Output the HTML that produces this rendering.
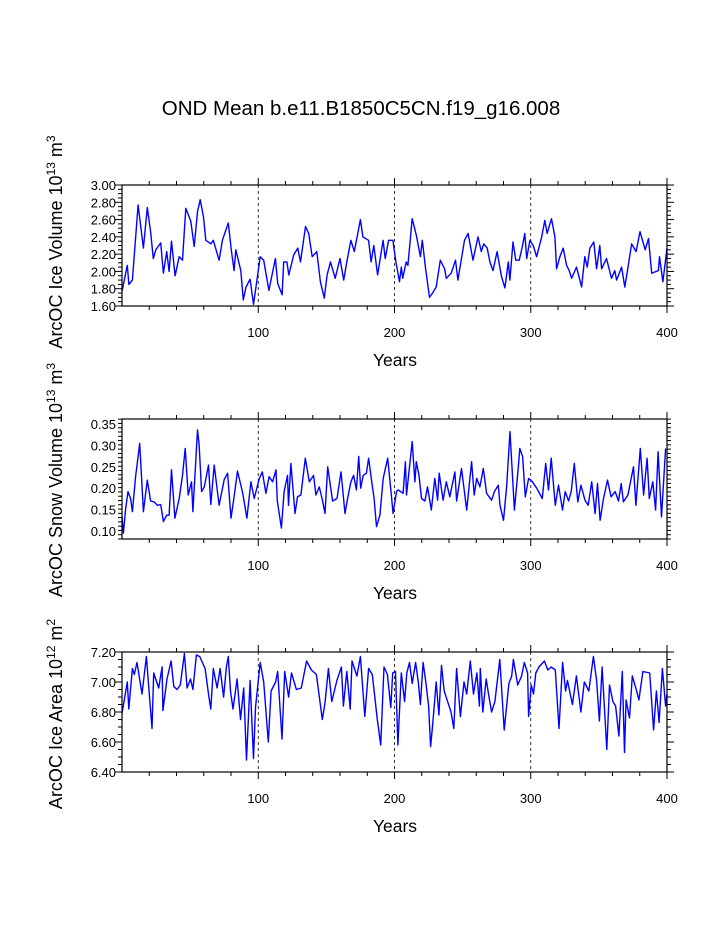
<!DOCTYPE html>
<html><head><meta charset="utf-8"><style>
html,body{margin:0;padding:0;background:#fff;}
svg{display:block;font-family:"Liberation Sans",Arial,sans-serif;}
</style></head><body>
<svg id="chart" width="723" height="935" viewBox="0 0 723 935">
<text x="361" y="115" text-anchor="middle" font-size="20.5">OND Mean b.e11.B1850C5CN.f19_g16.008</text>
</svg>
<script>
// Panel 1: ArcOC Ice Volume
const iceVolYears=[0,3.9,5.1,7.6,11.8,15.7,18.6,21,23,24.8,28.4,30.4,32.8,34.6,36.3,39,42,44.4,46.8,50.5,53,55.4,57.4,59.8,61.5,65.2,67,71.3,73.7,78,80.4,82.3,83.5,87.2,89,91,94,96.5,98,101.4,104,107.8,112.6,114.3,117.5,118.7,121,122.4,126,129,131,134.7,137,139.6,143,145.6,148.5,150.5,153,156.5,160,162.7,165,168,170.5,175,176.8,181,182.8,184.8,187.6,191.6,193.2,195.7,198.8,201,203.7,205,206,208.6,209.8,213,216,219,220.4,222.8,225.7,228,230.6,233.6,236.8,238,241.6,244.8,246.5,251.4,254,257.6,261.3,263.7,265.5,268,270,272.3,275.3,278.5,281,283.5,284.7,287,289,291.5,294,295.6,297,299.4,301.8,304.3,308,310.3,312,315.2,317.7,319,321.4,323.8,326.3,328.2,330,333.6,337.3,339.7,341.4,343.4,346.3,348.3,350.7,352,355.6,359.3,361.7,363,366.7,369,371.6,374,377.3,380.2,384,386.4,388.8,393.7,394.5,397,400];
const iceVolValues=[1.77,2.07,1.85,1.9,2.77,2.27,2.74,2.46,2.15,2.25,2.33,1.98,2.23,2.0,2.35,1.95,2.17,2.13,2.73,2.58,2.29,2.69,2.83,2.63,2.36,2.32,2.36,2.13,2.36,2.56,2.23,2.01,2.25,2.01,1.67,1.82,1.91,1.62,1.78,2.17,2.13,1.78,2.15,1.86,1.73,2.11,2.11,1.96,2.19,2.27,2.11,2.52,2.44,2.17,2.23,1.88,1.69,1.96,2.11,1.92,2.15,1.9,2.11,2.36,2.23,2.6,2.4,2.36,2.11,2.3,1.96,2.36,2.15,2.36,2.36,2.11,1.88,2.05,1.92,2.11,2.07,2.61,2.42,2.17,2.36,2.03,1.7,1.75,1.82,2.13,2.03,1.92,1.98,2.13,1.9,2.36,2.44,2.13,2.4,2.23,2.32,2.27,2.11,2.01,2.23,1.94,1.81,2.11,1.9,2.34,2.13,2.13,2.3,2.44,2.15,2.36,2.3,2.17,2.4,2.59,2.44,2.61,2.4,2.03,2.17,2.27,2.07,2.01,1.92,2.05,1.82,2.17,2.05,2.27,2.34,2.03,2.3,2.03,2.15,1.92,2.01,1.9,2.05,1.82,2.07,2.32,2.23,2.46,2.25,2.38,1.98,2.01,2.17,1.88,2.27];
// Panel 2: ArcOC Snow Volume
const snowYears=[0,1,2.7,4.4,6.3,7.6,10,13,15.7,18.6,21,23.5,26,28.4,30.4,32.8,34.6,36.3,38.8,42,44.4,46.4,48.6,51,52,55.4,56.6,58.4,60.4,63.5,65.2,67.7,71.3,75,77.5,80,82.3,84.8,88.5,91.7,94.6,97,100.8,103,105.6,108,110.5,113,114,117,119,121.5,122.2,124,127,128.8,131.3,134.5,137.5,140.6,142.3,144.8,147.2,149,151,154.6,157.8,160.7,163.7,165.6,168,170,172,173.7,175.2,177,179.4,181,183.6,185,186.8,189.3,191.7,195,197.4,199,201.5,202.7,206.3,208,208.8,213,215,216,218,219.8,222.3,224.2,227,229.6,231.6,232.8,235.7,238,240.6,244.3,245.6,249.2,253,256.6,258.5,260.3,262.7,265.2,267.6,271.3,273.3,276.2,277.4,280,282.3,284.8,288,291,292,294,296,298.4,301.2,304.4,308.5,311,313,315,318,320.4,323.3,325.3,327.8,329.7,332,334.5,336.8,339.8,342.2,344.7,347.2,349,350.9,353.4,356.3,359,362,364.4,366.4,368,371.3,373,375.4,377.2,380.4,382.8,385.4,387,389.6,391.6,393.5,396,399];
const snowValues=[0.133,0.095,0.153,0.192,0.176,0.145,0.227,0.305,0.145,0.219,0.17,0.168,0.16,0.162,0.122,0.137,0.137,0.243,0.13,0.176,0.23,0.293,0.184,0.215,0.145,0.336,0.302,0.192,0.203,0.254,0.162,0.254,0.16,0.22,0.235,0.13,0.18,0.24,0.19,0.13,0.215,0.176,0.223,0.238,0.188,0.227,0.215,0.243,0.17,0.107,0.192,0.23,0.16,0.258,0.141,0.18,0.184,0.27,0.215,0.23,0.184,0.203,0.17,0.141,0.25,0.17,0.176,0.238,0.141,0.176,0.215,0.23,0.196,0.274,0.2,0.23,0.235,0.27,0.207,0.176,0.11,0.137,0.223,0.27,0.192,0.141,0.192,0.196,0.188,0.262,0.184,0.309,0.215,0.262,0.23,0.176,0.17,0.203,0.149,0.223,0.172,0.235,0.172,0.215,0.18,0.238,0.17,0.246,0.149,0.262,0.184,0.223,0.203,0.246,0.188,0.172,0.192,0.207,0.16,0.125,0.203,0.332,0.149,0.254,0.293,0.274,0.18,0.223,0.215,0.2,0.176,0.258,0.196,0.27,0.16,0.207,0.149,0.192,0.17,0.192,0.258,0.168,0.207,0.172,0.16,0.215,0.141,0.211,0.125,0.176,0.219,0.18,0.192,0.17,0.211,0.168,0.184,0.211,0.25,0.16,0.293,0.184,0.27,0.176,0.215,0.149,0.285,0.133,0.293];
// Panel 3: ArcOC Ice Area
const areaYears=[0,3.9,5,7.6,9,11,14.7,17.9,19.6,22,23.3,26.9,29.4,30,33,36,38,40.4,42.8,45.8,47.8,50.3,52,54.6,57,61,63.6,65.2,67,69.8,72,74.6,76.6,78,79.6,81.5,84.5,87,89.3,91.4,94,96.5,98,101.4,104,107.4,109.4,112.7,114.3,117.4,119.4,122.3,124.4,128,131.6,135.5,139,142.7,147,149,151.5,154,157.7,161,162.5,165,167.5,168.8,172.4,175,178.2,181,183.7,187.4,189.9,192.3,194.8,197.3,198.7,200.7,202.5,205,207.4,209,211,213,215.5,217.5,219,221,223,225,226.5,228,230.6,232.6,234.5,236.5,239,241.5,243.5,245.6,248.4,251,253,255.6,258,260.5,262.3,263,264.8,267.3,269,271.3,273.7,277.3,280.5,284,286,287.3,290.4,293.3,295.3,297.7,298.4,300.3,302,303.7,306,310,312.5,315,318,320.7,323.4,325.6,327,330.6,333.5,336.8,339.3,342.6,346,348.3,350.4,352.4,355.8,357.8,360.3,362.3,364.7,367.2,368.8,370,372.5,374.5,377.4,379.4,382.3,387.3,390.2,392.2,394.2,396.6,399,400];
const areaValues=[6.79,7.0,6.82,7.09,7.05,7.13,6.92,7.17,6.97,6.69,7.06,6.96,7.1,6.81,7.02,7.14,6.97,6.95,6.98,7.19,6.96,7.02,6.95,7.18,7.17,7.09,6.91,6.82,7.09,6.96,7.09,6.9,7.1,7.17,6.94,6.82,7.02,6.75,6.96,6.48,7.01,6.49,6.83,7.13,7.0,6.6,6.94,7.0,7.07,6.62,7.07,6.9,7.06,6.95,6.96,7.14,7.08,7.05,6.75,6.86,7.09,6.87,7.01,7.1,6.84,7.07,6.82,7.14,7.04,7.17,6.77,7.09,7.05,6.75,6.58,7.1,7.05,6.83,7.06,7.07,6.58,7.06,6.87,7.06,7.13,6.99,7.13,7.0,6.85,7.13,7.0,6.84,6.57,6.71,7.0,6.78,7.11,6.94,6.87,6.8,6.69,7.09,6.77,7.0,6.92,7.14,6.92,7.06,6.84,7.09,6.8,7.02,6.92,6.8,6.87,7.15,6.68,6.99,7.04,7.15,6.98,7.04,7.13,7.06,6.77,6.98,6.92,7.06,7.1,7.14,7.08,7.1,7.08,6.69,7.13,6.94,7.01,6.85,7.04,6.8,7.0,6.94,7.17,7.01,6.74,7.1,6.55,6.98,6.87,6.84,6.64,7.07,6.53,6.88,6.76,7.04,6.95,6.88,7.07,7.06,6.68,6.94,6.73,7.09,6.84,6.92];
const xTickLabels=["100","200","300","400"];
const xTickValues=[100,200,300,400];

const NS="http://www.w3.org/2000/svg";
const svg=document.getElementById('chart');
function mk(tag,attrs,parent){const e=document.createElementNS(NS,tag);for(const k in attrs)e.setAttribute(k,attrs[k]);(parent||svg).appendChild(e);return e;}

function panel(cfg){
  const g=mk('g',{});
  
  
  const L=122,R=667,T=cfg.top,B=cfg.bottom;
  const xs=v=>L+(v-0)/(400)*(R-L);
  const ys=v=>B-(v-cfg.ymin)/(cfg.ymax-cfg.ymin)*(B-T);
  [100,200,300].forEach(v=>{
    const l=mk('line',{x1:xs(v),x2:xs(v),y1:T,y2:B,stroke:'#000','stroke-width':0.8,'stroke-dasharray':'3,3'},g);
    
    
  });
  const d=cfg.years.map((y,i)=>(i?'L':'M')+xs(y).toFixed(1)+','+ys(cfg.values[i]).toFixed(1)).join('');
  const p=mk('path',{d:d,fill:'none',stroke:'#0000ff','stroke-width':1.4,'stroke-linejoin':'round'},g);
  
  
  const fr=mk('rect',{x:L,y:T,width:R-L,height:B-T,fill:'none',stroke:'#000','stroke-width':1.2},g);
  
  
  for(let v=20;v<=400;v+=20){
    const maj=v%100===0, len=maj?7:4;
    mk('line',{x1:xs(v),x2:xs(v),y1:T,y2:T-len,stroke:'#000','stroke-width':1},g);
    mk('line',{x1:xs(v),x2:xs(v),y1:B,y2:B+len,stroke:'#000','stroke-width':1},g);
  }
  xTickLabels.forEach((s,i)=>{
    const t=mk('text',{x:xs(xTickValues[i]),y:B+31,'text-anchor':'middle','font-size':13},g);
    t.textContent=s;
    
    
  });
  const xt=mk('text',{x:395,y:B+60,'text-anchor':'middle','font-size':17.5},g);
  xt.textContent='Years';
  
  
  const n=Math.round((cfg.ymax-cfg.ymin)/cfg.minor);
  for(let i=0;i<=n;i++){
    const v=cfg.ymin+i*cfg.minor;
    const yy=ys(v);
    if(yy<T-0.5||yy>B+0.5)continue;
    const maj=Math.abs((v-cfg.tick0)/cfg.major-Math.round((v-cfg.tick0)/cfg.major))<1e-6;
    const len=maj?7:4;
    mk('line',{x1:L,x2:L-len,y1:yy,y2:yy,stroke:'#000','stroke-width':1},g);
    mk('line',{x1:R,x2:R+len,y1:yy,y2:yy,stroke:'#000','stroke-width':1},g);
  }
  cfg.yLabels.forEach((s,i)=>{
    const t=mk('text',{x:L-6,y:ys(cfg.yVals[i])+5,'text-anchor':'end','font-size':13},g);
    t.textContent=s;
    
    
  });
  const ty=mk('text',{transform:'translate(62,'+cfg.titleY+') rotate(-90)','text-anchor':'middle','font-size':18},g);
  
  
  ty.innerHTML=cfg.ytitle;
}

panel({name:'ice-volume-panel',top:185,bottom:306,ymin:1.6,ymax:3.0,minor:0.05,major:0.2,tick0:1.6,
  years:iceVolYears,values:iceVolValues,
  yLabels:["1.60","1.80","2.00","2.20","2.40","2.60","2.80","3.00"],yVals:[1.6,1.8,2.0,2.2,2.4,2.6,2.8,3.0],
  titleY:242,ytitle:'ArcOC Ice Volume 10<tspan font-size="12" dy="-7">13</tspan><tspan dy="7"> m</tspan><tspan font-size="12" dy="-7">3</tspan>'});
panel({name:'snow-volume-panel',top:419,bottom:539,ymin:0.0813,ymax:0.3617,minor:0.01,major:0.05,tick0:0.1,
  years:snowYears,values:snowValues,
  yLabels:["0.10","0.15","0.20","0.25","0.30","0.35"],yVals:[0.1,0.15,0.2,0.25,0.3,0.35],
  titleY:480,ytitle:'ArcOC Snow Volume 10<tspan font-size="12" dy="-7">13</tspan><tspan dy="7"> m</tspan><tspan font-size="12" dy="-7">3</tspan>'});
panel({name:'ice-area-panel',top:652,bottom:772,ymin:6.4,ymax:7.2,minor:0.05,major:0.2,tick0:6.4,
  years:areaYears,values:areaValues,
  yLabels:["6.40","6.60","6.80","7.00","7.20"],yVals:[6.4,6.6,6.8,7.0,7.2],
  titleY:714,ytitle:'ArcOC Ice Area 10<tspan font-size="12" dy="-7">12</tspan><tspan dy="7"> m</tspan><tspan font-size="12" dy="-7">2</tspan>'});
</script>
</body></html>
